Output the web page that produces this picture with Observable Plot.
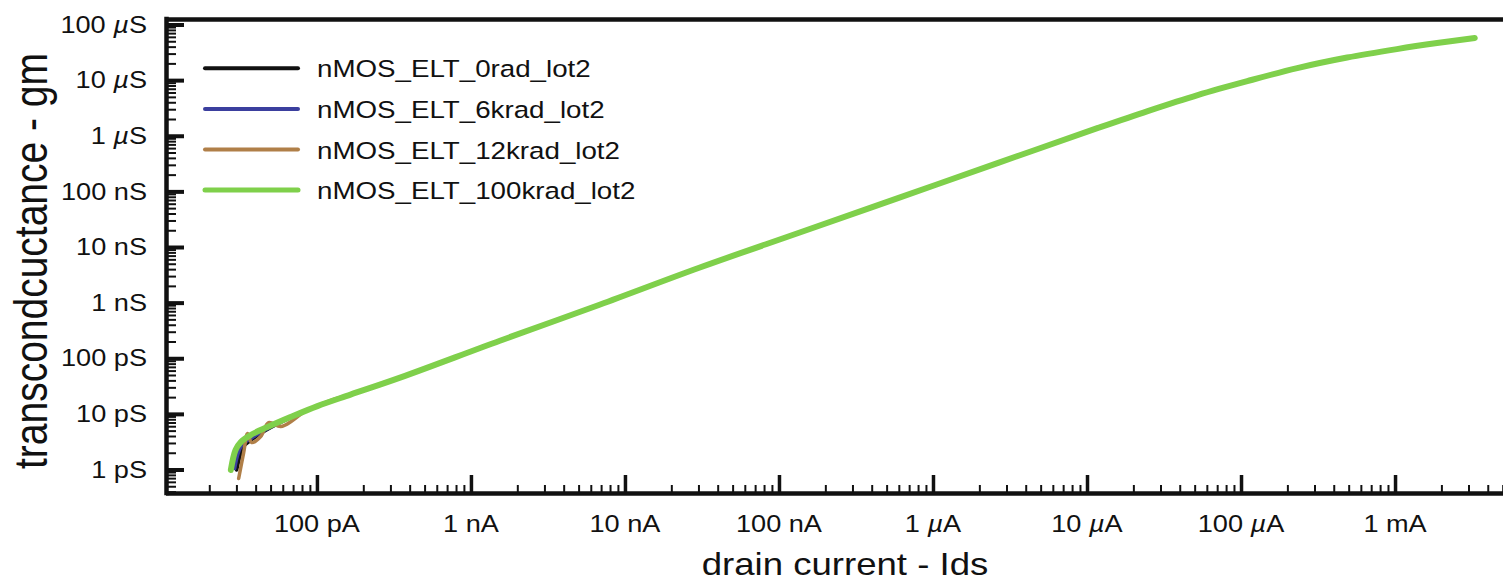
<!DOCTYPE html>
<html>
<head>
<meta charset="utf-8">
<script src="https://cdn.jsdelivr.net/npm/d3@7"></script>
<script src="https://cdn.jsdelivr.net/npm/@observablehq/plot@0.6"></script>
<style>
  html, body { margin: 0; padding: 0; background: #fff; }
  #chart svg { display: block; }
</style>
</head>
<body>
<div id="chart"></div>
<script>
// gm vs Ids of the ELT nMOS transistor (lot 2) at four total doses.
const seriesNames = ["nMOS_ELT_0rad_lot2", "nMOS_ELT_6krad_lot2", "nMOS_ELT_12krad_lot2", "nMOS_ELT_100krad_lot2"];
const seriesColors = ["#111111", "#3b3f9e", "#b07f48", "#7fd04b"];
const seriesWidths = [3.5, 3.5, 3.5, 6];

// Common part of all four curves (the traces overlap above ~150 pA)
const sharedIds = [1.64e-10, 3.44e-10, 1.53e-9, 6.79e-9, 3.01e-8, 1.34e-7, 5.94e-7, 2.63e-6, 1.17e-5, 2.46e-5, 5.19e-5, 1.09e-4, 2.30e-4, 4.85e-4, 1.02e-3, 1.86e-3, 3.27e-3];
const sharedGm  = [2.27e-11, 4.58e-11, 2.11e-10, 9.35e-10, 4.32e-9, 1.84e-8, 7.80e-8, 3.32e-7, 1.41e-6, 2.84e-6, 5.50e-6, 9.80e-6, 1.68e-5, 2.60e-5, 3.69e-5, 4.73e-5, 5.82e-5];

// Low-current ends, where the traces separate (noise floor)
const ids0rad   = [2.99e-11, 3.32e-11, 3.68e-11, 4.60e-11, 6.68e-11, 1.0e-10];
const gm0rad    = [1.0e-12, 2.64e-12, 3.39e-12, 5.12e-12, 8.7e-12, 1.4e-11];
const ids6krad  = [2.90e-11, 3.22e-11, 3.79e-11, 4.9e-11, 6.68e-11, 1.0e-10];
const gm6krad   = [1.06e-12, 2.75e-12, 3.84e-12, 5.8e-12, 8.9e-12, 1.41e-11];
const ids12krad = [3.08e-11, 3.32e-11, 3.52e-11, 3.74e-11, 4.28e-11, 4.82e-11, 5.77e-11, 6.89e-11, 8.11e-11, 1.21e-10];
const gm12krad  = [7.03e-13, 2.06e-12, 4.52e-12, 3.12e-12, 3.99e-12, 7.13e-12, 6.04e-12, 7.74e-12, 1.08e-11, 1.77e-11];
const ids100krad = [2.74e-11, 2.94e-11, 3.18e-11, 3.68e-11, 4.74e-11, 6.68e-11, 1.0e-10];
const gm100krad  = [1.0e-12, 2.29e-12, 3.18e-12, 4.25e-12, 5.92e-12, 8.95e-12, 1.41e-11];

// Axis ticks and labels
const xMajor = [1e-10, 1e-9, 1e-8, 1e-7, 1e-6, 1e-5, 1e-4, 1e-3];
const xLabels = ["100 pA", "1 nA", "10 nA", "100 nA", "1 µA", "10 µA", "100 µA", "1 mA"];
const yMajor = [1e-12, 1e-11, 1e-10, 1e-9, 1e-8, 1e-7, 1e-6, 1e-5, 1e-4];
const yLabels = ["1 pS", "10 pS", "100 pS", "1 nS", "10 nS", "100 nS", "1 µS", "10 µS", "100 µS"];
const xTitle = "drain current - Ids";
const yTitle = "transcondcuctance - gm";

const xDomain = [Math.pow(10, -10.98), Math.pow(10, -2.299)];
const yDomain = [Math.pow(10, -12.4225), Math.pow(10, -3.901)];

const W = 1503, H = 582;
const mL = 166, mR = 0, mT = 19, mB = 89;
const frameW = W - mL - mR, frameH = H - mT - mB;
const stretch = 1.18;
const font = "'Liberation Sans', Arial, Helvetica, sans-serif";
const ink = "#111";

const lowEnds = [[ids0rad, gm0rad], [ids6krad, gm6krad], [ids12krad, gm12krad], [ids100krad, gm100krad]];
const rows = seriesNames.map((name, s) => {
  const [li, lg] = lowEnds[s];
  const ids = li.concat(sharedIds), gm = lg.concat(sharedGm);
  return ids.map((v, i) => ({series: name, ids: v, gm: gm[i]}));
});

// minor ticks: 2..9 within each decade
function minorTicks([lo, hi]) {
  const out = [];
  for (let e = Math.floor(Math.log10(lo)); e <= Math.ceil(Math.log10(hi)); e++)
    for (let m = 2; m <= 9; m++) {
      const v = m * Math.pow(10, e);
      if (v >= lo && v <= hi) out.push(v);
    }
  return out;
}
const xMinor = minorTicks(xDomain);
const yMinor = minorTicks(yDomain);

const chart = Plot.plot({
  width: W, height: H,
  marginLeft: mL, marginRight: mR, marginTop: mT, marginBottom: mB,
  style: {fontFamily: font, background: "#fff", color: ink},
  x: {type: "log", domain: xDomain, axis: null},
  y: {type: "log", domain: yDomain, axis: null},
  marks: [
    ...rows.map((r, s) => Plot.line(r, {x: "ids", y: "gm", stroke: seriesColors[s], strokeWidth: seriesWidths[s], curve: "catmull-rom", strokeLinecap: "round", strokeLinejoin: "round"})),
    // inward-pointing ticks
    Plot.tickY(yMinor, {y: d => d, insetRight: frameW - 10, strokeWidth: 2, stroke: ink}),
    Plot.tickY(yMajor, {y: d => d, insetRight: frameW - 18, strokeWidth: 4, stroke: ink}),
    Plot.tickX(xMinor, {x: d => d, insetTop: frameH - 8, strokeWidth: 2, stroke: ink}),
    Plot.tickX(xMajor, {x: d => d, insetTop: frameH - 18, strokeWidth: 3.5, stroke: ink}),
    // axis lines (top, bottom, left)
    Plot.ruleY([yDomain[1]], {strokeWidth: 4.5, stroke: ink}),
    Plot.ruleY([yDomain[0]], {strokeWidth: 4.5, stroke: ink}),
    Plot.ruleX([xDomain[0]], {strokeWidth: 4.5, stroke: ink, y1: yDomain[0], y2: yDomain[1], strokeLinecap: "square"})
  ]
});

const sx = chart.scale("x"), sy = chart.scale("y");
const svg = d3.select(chart);

// label text with an italic mu
function unitText(sel, s) {
  s.split("µ").forEach((p, k) => {
    if (k > 0) sel.append("tspan").attr("font-style", "italic").text("µ");
    if (p) sel.append("tspan").text(p);
  });
}

// tick labels
const labels = svg.append("g").attr("font-family", font).attr("font-size", 23).attr("fill", ink);
xMajor.forEach((v, i) => {
  const t = labels.append("text").attr("text-anchor", "middle")
    .attr("transform", `translate(${sx.apply(v)},531.5) scale(${stretch},1)`);
  unitText(t, xLabels[i]);
});
yMajor.forEach((v, i) => {
  const t = labels.append("text").attr("text-anchor", "end")
    .attr("transform", `translate(147,${sy.apply(v) + 8.2}) scale(${stretch},1)`);
  unitText(t, yLabels[i]);
});

// axis titles
svg.append("text")
  .attr("transform", `translate(845,575) scale(${stretch},1)`)
  .attr("text-anchor", "middle").attr("font-family", font).attr("font-size", 31).attr("fill", ink)
  .text(xTitle);
svg.append("text")
  .attr("transform", `translate(47,261) scale(${stretch},1) rotate(-90)`)
  .attr("text-anchor", "middle").attr("font-family", font).attr("font-size", 39).attr("fill", ink)
  .text(yTitle);

// legend
const lg = svg.append("g");
seriesNames.forEach((name, i) => {
  const ly = 68.3 + i * 40.6;
  lg.append("line").attr("x1", 205).attr("x2", 298).attr("y1", ly).attr("y2", ly)
    .attr("stroke", seriesColors[i]).attr("stroke-width", i === 3 ? 5 : 4).attr("stroke-linecap", "round");
  lg.append("text").attr("transform", `translate(317,${ly + 9}) scale(${stretch},1)`)
    .attr("text-anchor", "start").attr("font-family", font).attr("font-size", 23.5).attr("fill", ink).text(name);
});

document.getElementById("chart").appendChild(chart);
</script>
</body>
</html>
